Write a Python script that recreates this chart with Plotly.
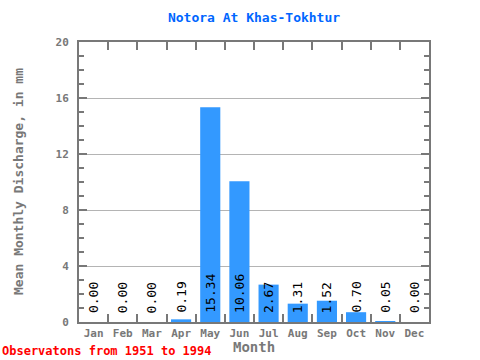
import plotly.graph_objects as go

months = ["Jan", "Feb", "Mar", "Apr", "May", "Jun", "Jul", "Aug", "Sep", "Oct", "Nov", "Dec"]
discharge = [0.00, 0.00, 0.00, 0.19, 15.34, 10.06, 2.67, 1.31, 1.52, 0.70, 0.05, 0.00]
y_ticks = [0, 4, 8, 12, 16, 20]

title_text = "Notora At Khas-Tokhtur"
y_title = "Mean Monthly Discharge, in mm"
x_title = "Month"
footer = "Observatons from 1951 to 1994"

FONT = "DejaVu Sans Mono"
GRAY = "#787878"

fig = go.Figure()
fig.add_trace(go.Bar(x=months, y=discharge, marker=dict(color="#3399ff", line=dict(width=0)),
                     hoverinfo="x+y"))

for m, v in zip(months, discharge):
    fig.add_annotation(x=m, y=0, text=f"{v:.2f}", textangle=-90, showarrow=False,
                       xanchor="center", yanchor="bottom", yshift=7,
                       font=dict(family=FONT, size=13, color="black"))

# footer
fig.add_annotation(xref="paper", yref="paper", x=-79/350, y=-38/280, xanchor="left", yanchor="bottom",
                   yshift=0, text=f"<b>{footer}</b>", showarrow=False,
                   font=dict(family=FONT, size=12, color="#ff0000"))
# axis titles
fig.add_annotation(xref="paper", yref="paper", x=0.5, y=-25/280, xanchor="center", yanchor="middle",
                   text=f"<b>{x_title}</b>", showarrow=False,
                   font=dict(family=FONT, size=14, color=GRAY))
fig.add_annotation(xref="paper", yref="paper", x=-61/350, y=0.5, xanchor="center", yanchor="middle",
                   text=f"<b>{y_title}</b>", textangle=-90, showarrow=False,
                   font=dict(family=FONT, size=13, color=GRAY))

fig.update_layout(
    width=480, height=360,
    margin=dict(l=79, r=51, t=42, b=38, autoexpand=False),
    paper_bgcolor="white", plot_bgcolor="white",
    bargap=0.31,
    showlegend=False,
    title=dict(text=f"<b>{title_text}</b>", x=(79+175)/480, xanchor="center", y=1-17/360, yanchor="middle",
               font=dict(family=FONT, size=13, color="#0066ff")),
    xaxis=dict(
        type="category", categoryorder="array", categoryarray=months,
        tickvals=months, ticktext=[f"<b>{m}</b>" for m in months], tickangle=0,
        showline=True, linecolor=GRAY, linewidth=2, mirror="ticks",
        ticks="inside", tickson="boundaries", ticklen=8, tickwidth=2, tickcolor=GRAY,
        tickfont=dict(family=FONT, size=11, color=GRAY),
        showgrid=False, fixedrange=True, automargin=False,
    ),
    yaxis=dict(
        range=[0, 20], tickvals=y_ticks, ticktext=[f"<b>{t}</b>" for t in y_ticks],
        showline=True, linecolor=GRAY, linewidth=2, mirror="ticks",
        ticks="inside", ticklen=8, tickwidth=2, tickcolor=GRAY,
        minor=dict(dtick=1, ticks="inside", ticklen=5, tickwidth=2, tickcolor=GRAY, showgrid=False),
        tickfont=dict(family=FONT, size=11, color=GRAY),
        ticklabelstandoff=6,
        showgrid=True, gridcolor="#b4b4b4", gridwidth=1,
        zeroline=False,
        fixedrange=True, automargin=False,
    ),
)

fig.write_html("out.html",
               config={"displayModeBar": False},
               post_script="document.body.style.margin='0';document.body.style.padding='0';document.body.style.overflow='hidden';")
